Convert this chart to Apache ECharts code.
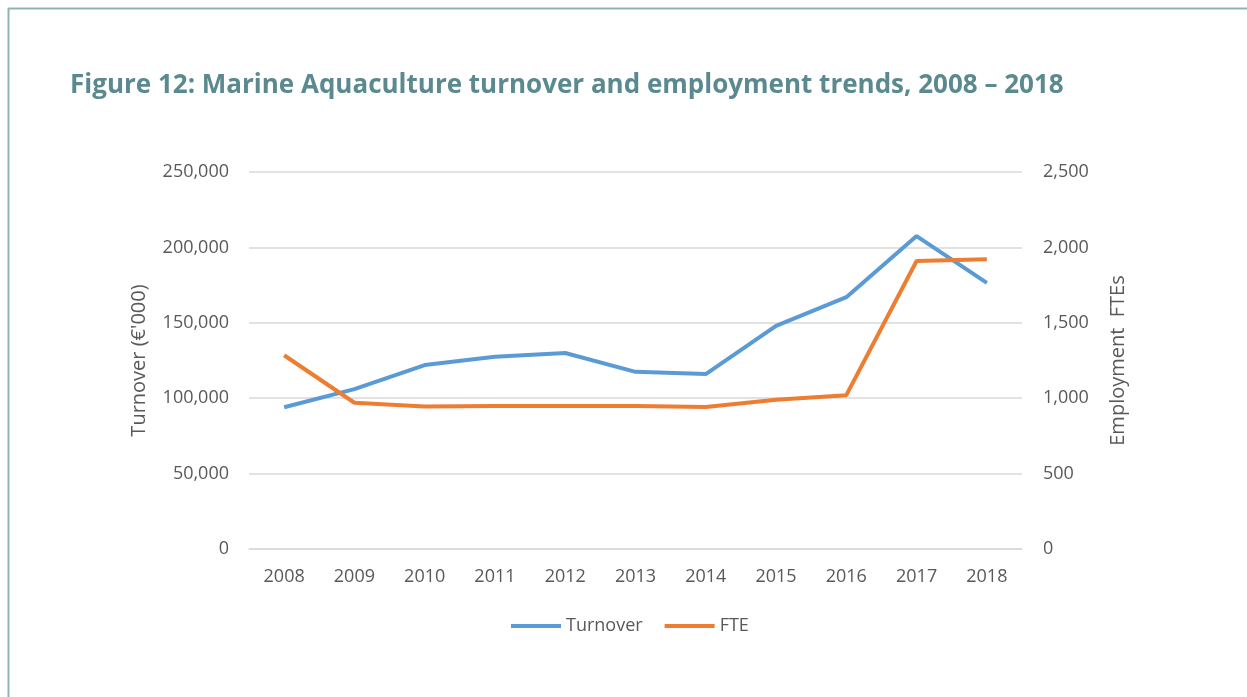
<!DOCTYPE html>
<html>
<head>
<meta charset="utf-8">
<script src="https://cdn.jsdelivr.net/npm/echarts@6/dist/echarts.min.js"></script>
<style>
html,body{margin:0;padding:0;background:#fff;}
#c{width:1247px;height:697px;}
</style>
</head>
<body>
<div id="c"></div>
<script>
const years = ['2008','2009','2010','2011','2012','2013','2014','2015','2016','2017','2018'];
const turnover = [94000, 106000, 122000, 127500, 130000, 117500, 116000, 148000, 167000, 207500, 176500];
const fte = [1285, 970, 945, 948, 948, 948, 942, 990, 1020, 1910, 1922];
const titleText = 'Figure 12: Marine Aquaculture turnover and employment trends, 2008 \u2013 2018';

const chart = echarts.init(document.getElementById('c'));
const labelColor = '#595959';
const fontFam = '"Open Sans", "Noto Sans", sans-serif';
const fmt = v => v.toLocaleString('en-US');

chart.setOption({
  backgroundColor: '#fff',
  animation: false,
  title: {
    text: titleText,
    left: 65, top: 68,
    textStyle: { color: '#5a8a8f', fontSize: 26, fontWeight: 'bold', fontFamily: fontFam }
  },
  graphic: [
    { type: 'line', shape: { x1: 8, y1: 8.5, x2: 1247, y2: 8.5 }, style: { stroke: '#8fb3b5', lineWidth: 2 } },
    { type: 'line', shape: { x1: 8.5, y1: 8, x2: 8.5, y2: 697 }, style: { stroke: '#8fb3b5', lineWidth: 2 } }
  ],
  legend: {
    left: 506, top: 612,
    itemWidth: 50, itemHeight: 4, itemGap: 22,
    icon: 'rect',
    textStyle: { color: labelColor, fontSize: 18, fontFamily: fontFam },
    data: ['Turnover', 'FTE']
  },
  grid: { left: 249, right: 225, top: 172, bottom: 148 },
  xAxis: {
    type: 'category', data: years, boundaryGap: true,
    axisLine: { lineStyle: { color: '#d9d9d9', width: 1.5 } },
    axisTick: { show: false },
    axisLabel: { color: labelColor, fontSize: 18, fontFamily: fontFam, margin: 19 }
  },
  yAxis: [
    {
      type: 'value', min: 0, max: 250000, interval: 50000,
      name: 'Turnover (\u20ac\'000)', nameLocation: 'middle', nameGap: 100, nameRotate: 90,
      nameTextStyle: { color: labelColor, fontSize: 20, fontFamily: fontFam },
      axisLine: { show: false }, axisTick: { show: false },
      axisLabel: { color: labelColor, fontSize: 18, fontFamily: fontFam, margin: 20, formatter: fmt },
      splitLine: { lineStyle: { color: '#d9d9d9', width: 1.5 } }
    },
    {
      type: 'value', min: 0, max: 2500, interval: 500,
      name: 'Employment  FTEs', nameLocation: 'middle', nameGap: 86, nameRotate: 90,
      nameTextStyle: { color: labelColor, fontSize: 20, fontFamily: fontFam },
      axisLine: { show: false }, axisTick: { show: false },
      axisLabel: { color: labelColor, fontSize: 18, fontFamily: fontFam, margin: 21, formatter: fmt },
      splitLine: { show: false }
    }
  ],
  series: [
    { name: 'Turnover', type: 'line', data: turnover, yAxisIndex: 0, showSymbol: false, symbol: 'none',
      lineStyle: { color: '#5b9bd5', width: 4 }, itemStyle: { color: '#5b9bd5' } },
    { name: 'FTE', type: 'line', data: fte, yAxisIndex: 1, showSymbol: false, symbol: 'none',
      lineStyle: { color: '#ed7d31', width: 4 }, itemStyle: { color: '#ed7d31' } }
  ]
});
</script>
</body>
</html>
